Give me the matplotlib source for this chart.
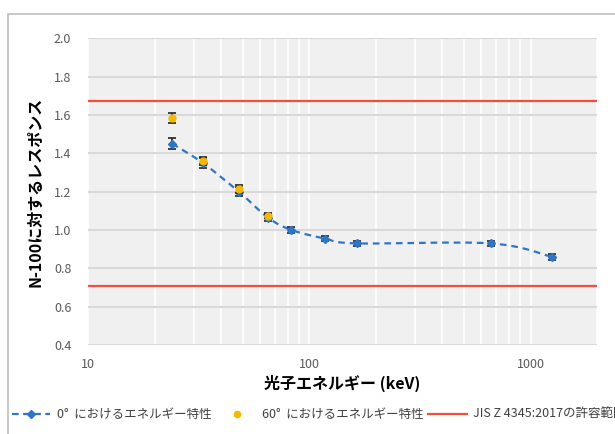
import numpy as np
import matplotlib
matplotlib.use("Agg")
import matplotlib.pyplot as plt
from matplotlib.path import Path
from matplotlib.patches import PathPatch, Rectangle
from matplotlib.lines import Line2D

plt.rcParams['font.family'] = ['Noto Sans CJK JP', 'DejaVu Sans']

# photon energies (keV) and responses relative to N-100
energy_0 = [24, 33, 48, 65, 83, 118, 164, 662, 1250]
resp_0 = [1.45, 1.35, 1.20, 1.065, 1.00, 0.955, 0.93, 0.93, 0.86]
err_0 = [0.03, 0.025, 0.025, 0.02, 0.015, 0.015, 0.015, 0.015, 0.015]

energy_60 = [24, 33, 48, 65]
resp_60 = [1.585, 1.36, 1.215, 1.075]
err_60 = [0.025, 0.02, 0.02, 0.015]

jis_upper = 1.67
jis_lower = 0.71

labels = ['0°  におけるエネルギー特性', '60°  におけるエネルギー特性',
          'JIS Z 4345:2017の許容範囲']

blue = '#2e75c8'
gold = '#f5b800'
red = '#f0503c'


def smooth_path(xs, ys, t=1 / 6):
    # Bezier curve through points, computed in log10(x) space
    lx = np.log10(xs)
    ys = np.asarray(ys, dtype=float)
    n = len(lx)
    verts = [(xs[0], ys[0])]
    codes = [Path.MOVETO]
    for i in range(n - 1):
        p0 = max(i - 1, 0)
        p3 = min(i + 2, n - 1)
        c1x = lx[i] + (lx[i + 1] - lx[p0]) * t
        c1y = ys[i] + (ys[i + 1] - ys[p0]) * t
        c2x = lx[i + 1] - (lx[p3] - lx[i]) * t
        c2y = ys[i + 1] - (ys[p3] - ys[i]) * t
        verts += [(10 ** c1x, c1y), (10 ** c2x, c2y), (xs[i + 1], ys[i + 1])]
        codes += [Path.CURVE4] * 3
    return Path(verts, codes)


W, H = 615, 434
fig = plt.figure(figsize=(W / 100, H / 100), dpi=100)
fig.patches.append(Rectangle((8 / W, -0.1), 1.2, 1.1 - 14 / H,
                             transform=fig.transFigure, fill=False,
                             edgecolor='#bfbfbf', linewidth=1.2))

ax = fig.add_axes([0.143, 0.205, 0.828, 0.707])
ax.set_facecolor('#f0f0f0')
ax.set_xscale('log')
ax.set_xlim(10, 2000)
ax.set_ylim(0.4, 2.0)
yt = np.arange(0.4, 2.01, 0.2)
ax.set_yticks(yt)
ax.set_yticklabels([f'{v:.1f}' for v in yt])
ax.set_xticks([10, 100, 1000])
ax.set_xticklabels(['10', '100', '1000'])

ax.grid(True, which='both', axis='x', color='white', linewidth=1.2)
ax.grid(True, which='major', axis='y', color='#d9d9d9', linewidth=1.5)
ax.set_axisbelow(True)
for s in ax.spines.values():
    s.set_visible(False)
ax.tick_params(which='both', length=0, colors='#595959', labelsize=9)
ax.tick_params(axis='x', pad=9)
ax.tick_params(axis='y', pad=12)

ax.axhline(jis_upper, color=red, linewidth=1.6, zorder=2)
ax.axhline(jis_lower, color=red, linewidth=1.6, zorder=2)

ax.add_patch(PathPatch(smooth_path(energy_0, resp_0), fill=False,
                       edgecolor=blue, linestyle=(0, (3, 2.2)), linewidth=1.6, zorder=3))

ax.errorbar(energy_0, resp_0, yerr=err_0, fmt='D', color=blue, markersize=4,
            ecolor='#222222', elinewidth=1.2, capsize=3, capthick=1.2, zorder=4)
ax.errorbar(energy_60, resp_60, yerr=err_60, fmt='o', color=gold, markersize=5,
            ecolor='#222222', elinewidth=1.2, capsize=3, capthick=1.2, zorder=5)

ax.set_xlabel('光子エネルギー (keV)', fontsize=11.5, fontweight='bold', labelpad=3)
ax.set_ylabel('N-100に対するレスポンス', fontsize=11.5, fontweight='bold', labelpad=8)

# legend row along the bottom edge, drawn in figure pixels
ly = 1 - 414 / H
px = lambda v: v / W
fig.add_artist(Line2D([px(12), px(50)], [ly, ly], color=blue, linestyle=(0, (3, 2)),
                      linewidth=1.6, transform=fig.transFigure))
fig.add_artist(Line2D([px(31)], [ly], color=blue, marker='D', markersize=4,
                      transform=fig.transFigure))
fig.add_artist(Line2D([px(237)], [ly], color=gold, marker='o', markersize=4.5,
                      transform=fig.transFigure))
fig.add_artist(Line2D([px(428), px(467)], [ly, ly], color=red, linewidth=1.6,
                      transform=fig.transFigure))
for x0, lab in zip([57, 262, 473], labels):
    fig.text(px(x0), ly, lab, fontsize=9, color='#404040', ha='left', va='center')

fig.savefig('out.png', dpi=100)
